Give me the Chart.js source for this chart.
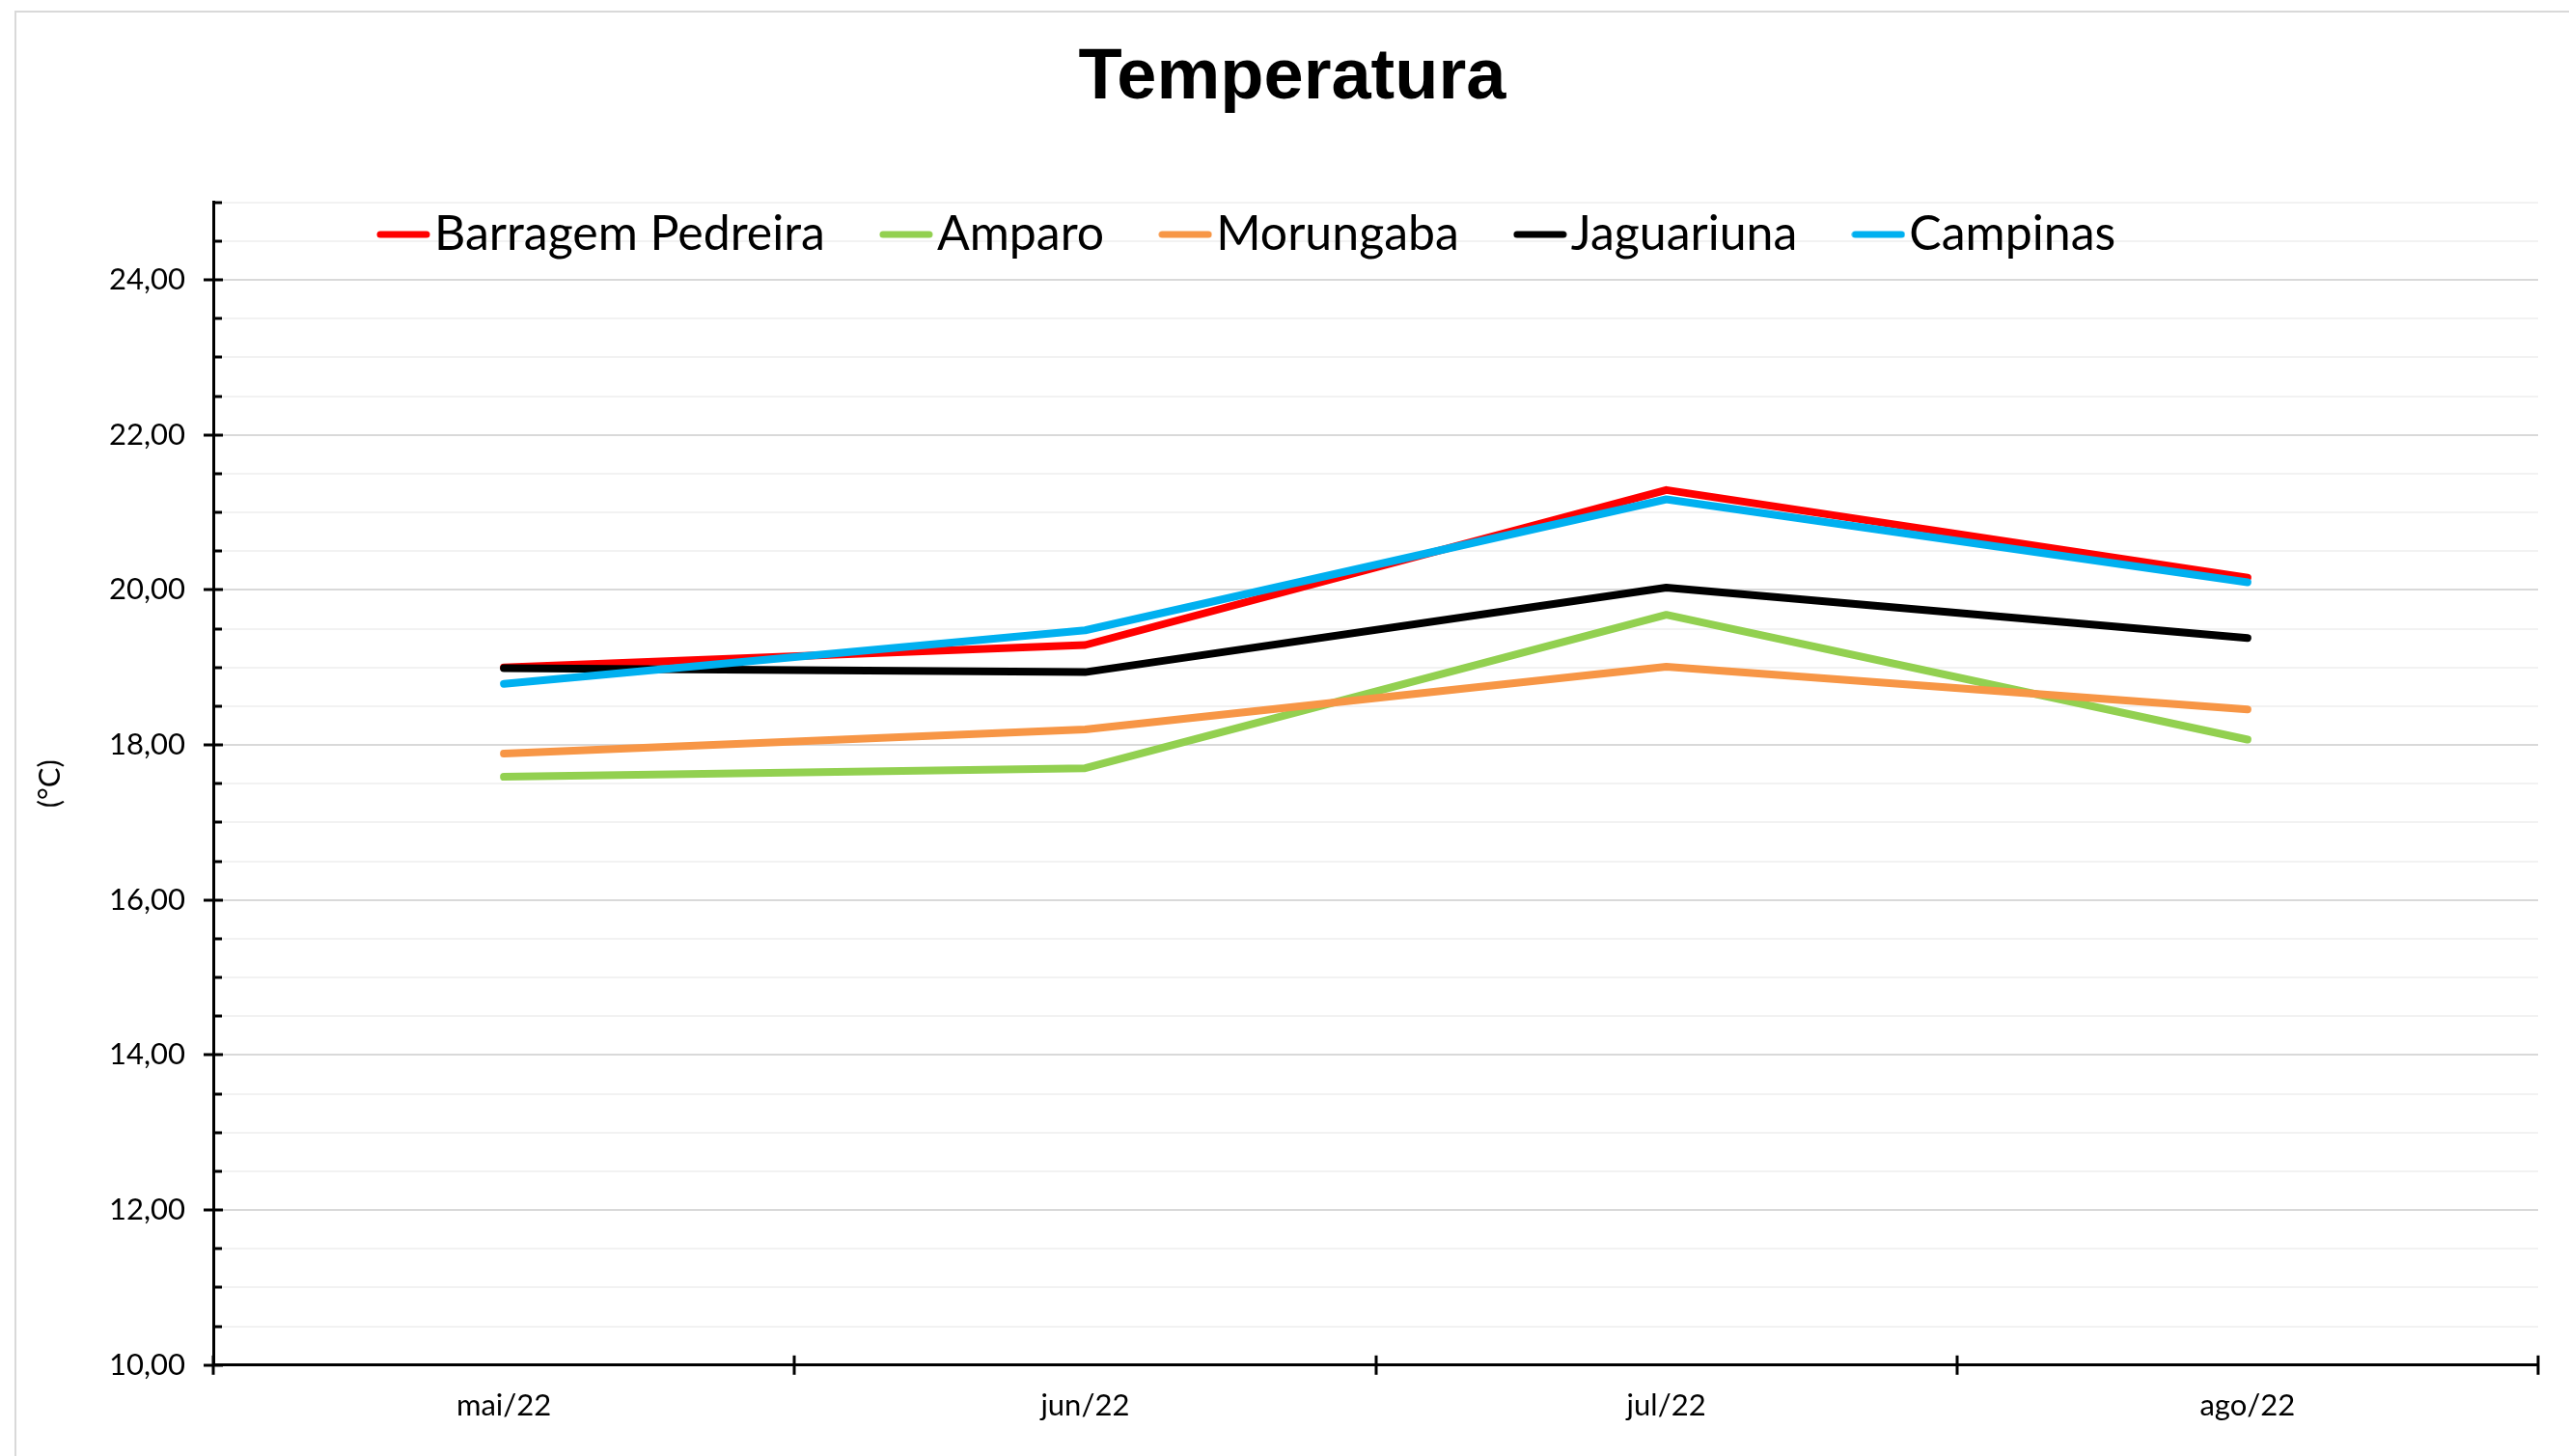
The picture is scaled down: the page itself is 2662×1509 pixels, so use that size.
<!DOCTYPE html>
<html>
<head>
<meta charset="utf-8">
<script src="https://cdn.jsdelivr.net/npm/chart.js@4.4.0/dist/chart.umd.min.js"></script>
<style>
  html, body { margin: 0; padding: 0; background: #fff; overflow: hidden; }
  #wrap { position: relative; width: 2662px; height: 1509px; }
  #frame { position: absolute; left: 15px; top: 11px; width: 2700px; height: 1600px; border: 2px solid #d9d9d9; }
  canvas { position: absolute; left: 0; top: 0; }
</style>
</head>
<body>
<div id="wrap"><div id="frame"></div><canvas id="myChart" width="2662" height="1509"></canvas></div>
<script>
const meses = ['mai/22', 'jun/22', 'jul/22', 'ago/22'];
const barragemPedreira = [19.00, 19.29, 21.29, 20.16];
const amparo = [17.59, 17.70, 19.68, 18.07];
const morungaba = [17.89, 18.20, 19.01, 18.46];
const jaguariuna = [18.99, 18.94, 20.03, 19.38];
const campinas = [18.79, 19.48, 21.17, 20.10];
const yMin = 10;
const yMax = 25;
const yPasso = 0.5;

const ctx = document.getElementById('myChart');

// amostra da legenda: traço colado ao texto, como no Excel
function tracoLegenda(cor) {
    const c = document.createElement('canvas');
    c.width = 56;
    c.height = 10;
    const g = c.getContext('2d');
    g.strokeStyle = cor;
    g.lineWidth = 7;
    g.lineCap = 'round';
    g.beginPath();
    g.moveTo(4, 5);
    g.lineTo(52, 5);
    g.stroke();
    return c;
}

function serie(label, data, cor, ordem) {
    return {
        label: label,
        data: data,
        borderColor: cor,
        backgroundColor: cor,
        borderWidth: 8,
        borderCapStyle: 'round',
        borderJoinStyle: 'round',
        pointRadius: 0,
        pointHoverRadius: 0,
        pointStyle: tracoLegenda(cor),
        tension: 0,
        fill: false,
        order: ordem
    };
}

const marcasEixos = {
    id: 'marcasEixos',
    afterUpdate(chart) {
        const leg = chart.legend;
        const pad = leg.options.labels.padding;
        const fs = leg.options.labels.font.size;
        leg.top = 243 - pad - fs / 2;
        leg.bottom = leg.top + 300;
        leg.left = 411 - pad;
        const tit = chart.titleBlock;
        tit.left += 24;
        tit.right += 24;
    },
    beforeDatasetsDraw(chart) {
        const c = chart.ctx;
        const x = chart.scales.x;
        const y = chart.scales.y;
        c.save();
        c.strokeStyle = '#000';
        c.lineWidth = 3;
        const ax = y.right;
        y.ticks.forEach(t => {
            const py = Math.round(y.getPixelForValue(t.value));
            c.beginPath();
            if (t.value % 2 === 0) {
                c.moveTo(ax - 10, py);
                c.lineTo(ax + 10, py);
            } else {
                c.moveTo(ax, py);
                c.lineTo(ax + 9, py);
            }
            c.stroke();
        });
        const ay = x.top;
        for (let i = 0; i <= meses.length; i++) {
            const px = Math.round(x.getPixelForValue(i - 0.5));
            c.beginPath();
            c.moveTo(px, ay - 10);
            c.lineTo(px, ay + 10);
            c.stroke();
        }
        c.restore();
    }
};

const chart = {
    type: 'line',
    data: {
        labels: meses,
        datasets: [
            serie('Barragem Pedreira', barragemPedreira, '#FF0000', 5),
            serie('Amparo', amparo, '#92D050', 4),
            serie('Morungaba', morungaba, '#F79646', 3),
            serie('Jaguariuna', jaguariuna, '#000000', 2),
            serie('Campinas', campinas, '#00B0F0', 1)
        ]
    },
    options: {
        responsive: false,
        animation: false,
        devicePixelRatio: 1,
        layout: {
            padding: { left: 0, right: 32, top: 0, bottom: 9 }
        },
        plugins: {
            title: {
                display: true,
                text: 'Temperatura',
                color: '#000',
                font: { family: 'Liberation Sans', size: 74, weight: 'bold' },
                padding: { top: 37, bottom: 54 }
            },
            legend: {
                position: 'top',
                align: 'start',
                maxHeight: 30,
                labels: {
                    color: '#000',
                    font: { family: 'Lato', size: 50 },
                    usePointStyle: true,
                    pointStyleWidth: 14,
                    padding: 77,
                    sort: (a, b) => a.datasetIndex - b.datasetIndex
                }
            },
            tooltip: { enabled: false }
        },
        scales: {
            x: {
                offset: true,
                grid: { display: false, drawTicks: false },
                border: { display: true, color: '#000', width: 3 },
                ticks: {
                    color: '#000',
                    font: { family: 'Lato', size: 31 },
                    padding: 24,
                    maxRotation: 0
                }
            },
            y: {
                min: yMin,
                max: yMax,
                afterFit: (scale) => { scale.width = 221; },
                grid: {
                    drawTicks: false,
                    lineWidth: 2,
                    color: (c) => (c.tick && c.tick.value % 2 === 0) ? '#d9d9d9' : '#f2f2f2'
                },
                border: { display: true, color: '#000', width: 3 },
                ticks: {
                    stepSize: yPasso,
                    maxTicksLimit: 40,
                    autoSkip: false,
                    color: '#000',
                    padding: 29,
                    font: { family: 'Lato', size: 31 },
                    callback: (v) => v % 2 === 0 ? v.toFixed(2).replace('.', ',') : ''
                },
                title: {
                    display: true,
                    text: '(°C)',
                    color: '#000',
                    font: { family: 'Lato', size: 31 },
                    padding: { top: 33, bottom: 0 }
                }
            }
        }
    },
    plugins: [marcasEixos]
};

const chartObj = new Chart(ctx, chart);
</script>
</body>
</html>
